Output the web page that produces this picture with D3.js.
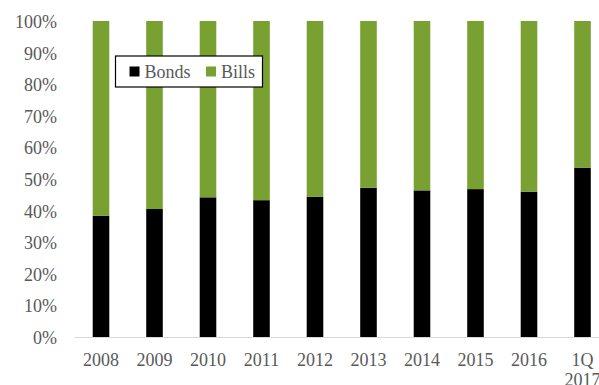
<!DOCTYPE html>
<html>
<head>
<meta charset="utf-8">
<script src="https://cdn.jsdelivr.net/npm/d3@7/dist/d3.min.js"></script>
<style>
  html, body { margin: 0; padding: 0; background: #fff; overflow: hidden; }
  svg { display: block; }
  text { font-family: "Liberation Serif", "DejaVu Serif", serif; fill: #595959; }
</style>
</head>
<body>
<svg id="chart" width="599" height="385"></svg>
<script>
// Share of bonds vs bills in outstanding issuance (each year sums to 100%)
const categories = ["2008", "2009", "2010", "2011", "2012", "2013", "2014", "2015", "2016", "1Q 2017"];
const bonds = [38.4, 40.5, 44.2, 43.3, 44.4, 47.2, 46.4, 46.8, 46.0, 53.6];
const bills = bonds.map(b => 100 - b);
const yTicks = [0, 10, 20, 30, 40, 50, 60, 70, 80, 90, 100];
const seriesNames = ["Bonds", "Bills"];
const seriesColors = ["#000000", "#78a132"];

const svg = d3.select("#chart");
const margin = { left: 74.25, top: 21, bottom: 48 };
const plotBottom = 337;
const plotTop = margin.top;

const rows = categories.map((c, i) => ({ cat: c, Bonds: bonds[i], Bills: bills[i] }));
const stack = d3.stack().keys(seriesNames)(rows);

const x = d3.scaleBand()
  .domain(categories)
  .range([margin.left, margin.left + 53.5 * categories.length])
  .paddingInner(0.69)
  .paddingOuter(0.345);

const y = d3.scaleLinear().domain([0, 100]).range([plotBottom, plotTop]);

// Y axis labels (no axis line, no tick marks)
const yAxis = svg.append("g")
  .attr("transform", "translate(57,0)")
  .call(d3.axisLeft(y).tickValues(yTicks).tickSize(0).tickPadding(0).tickFormat(d => d + "%"));
yAxis.select(".domain").remove();
yAxis.selectAll("text")
  .attr("font-family", "Liberation Serif, serif")
  .attr("font-size", 18)
  .attr("fill", "#595959")
  .attr("dy", "0.36em");

// Bars
svg.append("g").selectAll("g")
  .data(stack)
  .join("g")
  .attr("fill", (d, i) => seriesColors[i])
  .selectAll("rect")
  .data(d => d)
  .join("rect")
  .attr("x", d => x(d.data.cat))
  .attr("width", x.bandwidth())
  .attr("y", d => y(d[1]))
  .attr("height", d => y(d[0]) - y(d[1]));

// X axis: light baseline with category labels
const xAxis = svg.append("g")
  .attr("transform", `translate(0,${plotBottom})`)
  .call(d3.axisBottom(x).tickSize(0).tickPadding(0));
xAxis.select(".domain")
  .attr("stroke", "#d9d9d9")
  .attr("stroke-width", 1)
  .attr("d", `M${margin.left},0.5H620`);
xAxis.selectAll(".tick text").each(function(d) {
  const t = d3.select(this);
  t.text(null)
    .attr("font-family", "Liberation Serif, serif")
    .attr("font-size", 18)
    .attr("fill", "#595959")
    .attr("y", 29)
    .attr("dy", 0);
  const parts = d.split(" ");
  parts.forEach((p, i) => {
    t.append("tspan").attr("x", 0).attr("dy", i === 0 ? 0 : 20).text(p);
  });
});

// Legend
const legend = svg.append("g").attr("transform", "translate(115.5,56)");
legend.append("rect")
  .attr("width", 147).attr("height", 31)
  .attr("fill", "#fff").attr("stroke", "#000").attr("stroke-width", 1.2);
const legendItems = [
  { name: seriesNames[0], color: seriesColors[0], x: 14 },
  { name: seriesNames[1], color: seriesColors[1], x: 90.5 }
];
legendItems.forEach(item => {
  legend.append("rect")
    .attr("x", item.x).attr("y", 10.5)
    .attr("width", 10).attr("height", 10)
    .attr("fill", item.color);
  legend.append("text")
    .attr("x", item.x + 15).attr("y", 21.5)
    .attr("font-size", 18)
    .attr("fill", "#595959")
    .text(item.name);
});
</script>
</body>
</html>
